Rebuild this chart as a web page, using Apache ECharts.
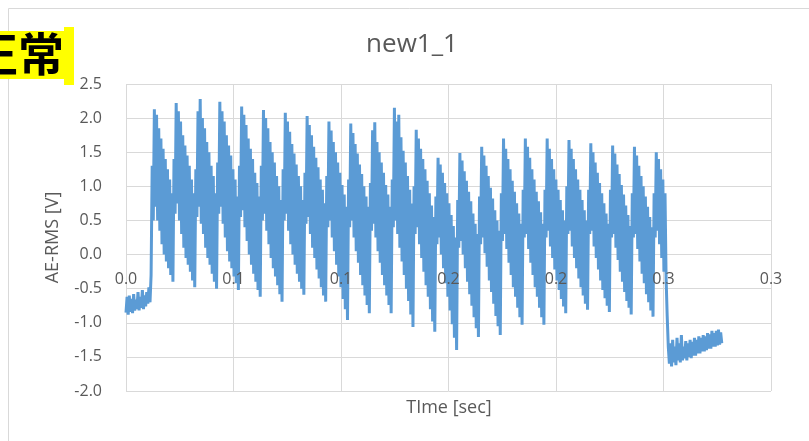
<!DOCTYPE html>
<html><head><meta charset="utf-8">
<script src="https://cdn.jsdelivr.net/npm/echarts@6/dist/echarts.min.js"></script>
<style>html,body{margin:0;padding:0;background:#fff}#c{width:809px;height:441px}</style>
</head><body><div id="c"></div>
<script>
const chartTitle = 'new1_1';
const statusLabel = '正常';
const xAxisName = 'TIme [sec]';
const yAxisName = 'AE-RMS [V]';
const sampleInterval = 0.0005075; // seconds between samples
const xTickLabels = ['0.0', '0.1', '0.1', '0.2', '0.2', '0.3', '0.3'];
const yTickLabels = ['-2.0', '-1.5', '-1.0', '-0.5', '0.0', '0.5', '1.0', '1.5', '2.0', '2.5'];

// signal before the bursts start
const startSegment = [-0.85, -0.62, -0.88, -0.60, -0.84, -0.65, -0.86, -0.58, -0.82, -0.66, -0.80, -0.55, -0.82, -0.62, -0.78, -0.52, -0.80, -0.60, -0.76, -0.55, -0.72, -0.48, -0.70, -0.30];

// repeating bursts (20 samples each)
const burstValues = [
  1.30, 0.50, 2.13, 0.70, 2.05, 0.50, 1.85, 0.35, 1.70, 0.15, 1.55, 0.00, 1.40, -0.10, 1.25, -0.20, 1.10, -0.30, 0.90, -0.40,
  1.40, 0.60, 2.22, 0.75, 2.10, 0.50, 1.95, 0.30, 1.75, 0.10, 1.60, -0.05, 1.45, -0.15, 1.30, -0.25, 1.10, -0.38, 0.90, -0.48,
  1.25, 0.55, 2.10, 0.70, 2.28, 0.45, 2.00, 0.30, 1.85, 0.10, 1.65, -0.05, 1.50, -0.15, 1.30, -0.28, 1.15, -0.40, 0.90, -0.50,
  1.35, 0.60, 2.24, 0.70, 2.10, 0.45, 1.95, 0.25, 1.75, 0.05, 1.60, -0.10, 1.45, -0.20, 1.25, -0.32, 1.10, -0.42, 0.85, -0.52,
  1.30, 0.55, 2.17, 0.65, 2.05, 0.40, 1.90, 0.20, 1.70, 0.00, 1.55, -0.15, 1.40, -0.28, 1.20, -0.40, 1.05, -0.52, 0.85, -0.62,
  1.30, 0.50, 2.12, 0.60, 2.00, 0.35, 1.85, 0.15, 1.65, -0.05, 1.50, -0.20, 1.35, -0.32, 1.15, -0.45, 1.00, -0.58, 0.80, -0.69,
  1.25, 0.50, 2.08, 0.60, 1.95, 0.35, 1.80, 0.15, 1.62, 0.00, 1.48, -0.15, 1.32, -0.28, 1.15, -0.40, 1.00, -0.50, 0.80, -0.59,
  1.20, 0.45, 2.03, 0.55, 1.90, 0.30, 1.75, 0.10, 1.58, -0.05, 1.42, -0.22, 1.28, -0.35, 1.10, -0.48, 0.95, -0.60, 0.75, -0.69,
  1.15, 0.40, 1.95, 0.50, 1.82, 0.25, 1.65, 0.05, 1.50, -0.15, 1.35, -0.32, 1.20, -0.48, 1.02, -0.65, 0.88, -0.80, 0.70, -0.96,
  1.10, 0.40, 1.92, 0.50, 1.78, 0.25, 1.62, 0.05, 1.48, -0.12, 1.32, -0.30, 1.18, -0.45, 1.00, -0.60, 0.85, -0.74, 0.70, -0.86,
  1.05, 0.35, 1.82, 0.45, 1.94, 0.25, 1.65, 0.05, 1.50, -0.12, 1.35, -0.30, 1.20, -0.45, 1.02, -0.60, 0.88, -0.74, 0.70, -0.86,
  1.10, 0.40, 2.15, 0.50, 1.95, 0.30, 2.05, 0.10, 1.72, -0.10, 1.52, -0.30, 1.35, -0.50, 1.15, -0.68, 0.95, -0.88, 0.75, -1.06,
  1.00, 0.30, 1.83, 0.40, 1.70, 0.15, 1.55, -0.05, 1.40, -0.25, 1.25, -0.45, 1.08, -0.62, 0.90, -0.80, 0.72, -0.98, 0.55, -1.13,
  0.85, 0.15, 1.42, 0.25, 1.32, 0.00, 1.20, -0.20, 1.05, -0.42, 0.90, -0.62, 0.75, -0.82, 0.58, -1.02, 0.42, -1.22, 0.25, -1.40,
  0.80, 0.10, 1.49, 0.20, 1.38, 0.00, 1.22, -0.20, 1.08, -0.40, 0.92, -0.58, 0.78, -0.75, 0.60, -0.92, 0.45, -1.08, 0.30, -1.21,
  0.85, 0.15, 1.58, 0.25, 1.45, 0.02, 1.30, -0.18, 1.15, -0.38, 0.98, -0.55, 0.82, -0.72, 0.65, -0.90, 0.50, -1.05, 0.35, -1.18,
  0.90, 0.20, 1.70, 0.30, 1.55, 0.08, 1.40, -0.12, 1.25, -0.30, 1.08, -0.48, 0.92, -0.62, 0.75, -0.78, 0.60, -0.92, 0.45, -1.03,
  0.95, 0.25, 1.70, 0.30, 1.58, 0.08, 1.42, -0.12, 1.25, -0.30, 1.10, -0.48, 0.92, -0.62, 0.78, -0.78, 0.62, -0.92, 0.45, -1.03,
  0.95, 0.25, 1.70, 0.35, 1.55, 0.12, 1.40, -0.05, 1.25, -0.22, 1.10, -0.38, 0.95, -0.52, 0.80, -0.65, 0.65, -0.76, 0.50, -0.86,
  1.00, 0.30, 1.68, 0.35, 1.55, 0.12, 1.40, -0.05, 1.25, -0.20, 1.10, -0.35, 0.95, -0.48, 0.80, -0.60, 0.65, -0.72, 0.50, -0.81,
  0.95, 0.30, 1.63, 0.35, 1.50, 0.12, 1.35, -0.05, 1.20, -0.22, 1.05, -0.38, 0.90, -0.52, 0.75, -0.64, 0.60, -0.75, 0.45, -0.84,
  0.95, 0.25, 1.60, 0.30, 1.48, 0.10, 1.32, -0.08, 1.18, -0.25, 1.02, -0.40, 0.88, -0.55, 0.72, -0.68, 0.58, -0.78, 0.42, -0.88,
  0.90, 0.25, 1.58, 0.30, 1.45, 0.08, 1.30, -0.10, 1.15, -0.28, 1.00, -0.42, 0.85, -0.58, 0.70, -0.70, 0.55, -0.82, 0.40, -0.91
];

// last burst, the drop and the low tail
const endSegment = [
  0.90, 0.25, 1.50, 0.35, 1.40, 0.15, 1.25, -0.05, 1.10, -0.25, 0.90, -0.35, -0.90, -1.35,
  -1.60, -1.30, -1.64, -1.25, -1.58, -1.35, -1.62, -1.22, -1.55, -1.30,
  -1.58, -1.18, -1.55, -1.35, -1.52, -1.27, -1.55, -1.30, -1.50, -1.25,
  -1.52, -1.28, -1.48, -1.22, -1.48, -1.25, -1.45, -1.20, -1.45, -1.22,
  -1.42, -1.18, -1.42, -1.20, -1.40, -1.15, -1.38, -1.17, -1.38, -1.12,
  -1.35, -1.15, -1.35, -1.12, -1.33, -1.10, -1.32, -1.14, -1.30
];

const signal = startSegment.concat(burstValues, endSegment);
const seriesData = signal.map((v, i) => [i * sampleInterval, v]);

const yMin = -2, yMax = 2.5;
const plotTop = 84, plotHeight = 307;
// label grid ends exactly at y = 0 of the main plot so the time labels sit on the zero line
const zeroOffset = plotHeight * yMax / (yMax - yMin);

const txt = '#595959';
const fontFam = '"Open Sans", "Liberation Sans", sans-serif';
const chart = echarts.init(document.getElementById('c'), null, {renderer: 'canvas'});
chart.setOption({
  animation: false,
  backgroundColor: '#ffffff',
  grid: [
    {left: 126, top: plotTop, width: 645, height: plotHeight, containLabel: false, outerBoundsMode: 'none'},
    {left: 126, top: plotTop, width: 645, height: zeroOffset, containLabel: false, outerBoundsMode: 'none', z: 5}
  ],
  xAxis: [{
    gridIndex: 0, type: 'value', min: 0, max: 0.3, interval: 0.05, position: 'bottom',
    axisLine: {show: false, onZero: false}, axisTick: {show: false}, axisLabel: {show: false},
    splitLine: {show: true, lineStyle: {color: '#d9d9d9', width: 1}}, z: 0
  }, {
    gridIndex: 1, type: 'value', min: 0, max: 0.3, interval: 0.05, position: 'bottom',
    axisLine: {show: false, onZero: false}, axisTick: {show: false}, splitLine: {show: false},
    axisLabel: {
      margin: 17, color: txt, fontSize: 16, fontFamily: fontFam,
      formatter: v => xTickLabels[Math.round(v / 0.05)]
    }, z: 5
  }],
  yAxis: [{
    gridIndex: 0, type: 'value', min: yMin, max: yMax, interval: 0.5,
    axisLine: {show: false}, axisTick: {show: false},
    splitLine: {show: true, lineStyle: {color: '#d9d9d9', width: 1}},
    axisLabel: {margin: 24, color: txt, fontSize: 16, fontFamily: fontFam,
      formatter: v => yTickLabels[Math.round((v - yMin) / 0.5)]},
    name: yAxisName, nameLocation: 'middle', nameGap: 64,
    nameTextStyle: {color: txt, fontSize: 18, fontFamily: fontFam}
  }, {
    gridIndex: 1, type: 'value', min: 0, max: 1, show: false
  }],
  series: [{
    type: 'line', xAxisIndex: 0, yAxisIndex: 0, data: seriesData, showSymbol: false, symbol: 'none',
    sampling: null, lineStyle: {color: '#5b9bd5', width: 3}, itemStyle: {color: '#5b9bd5'}, z: 2
  }],
  graphic: [
    {type: 'rect', silent: true, z: -10, shape: {x: 8.5, y: 8.5, width: 900, height: 900},
      style: {fill: 'none', stroke: '#d9d9d9', lineWidth: 1}},
    {type: 'text', silent: true, x: 412, y: 45,
      style: {text: chartTitle, textAlign: 'center', textVerticalAlign: 'middle', verticalAlign: 'middle',
        fill: txt, font: '26px ' + fontFam}},
    {type: 'text', silent: true, x: 449, y: 408,
      style: {text: xAxisName, textAlign: 'center', textVerticalAlign: 'middle', verticalAlign: 'middle',
        fill: txt, font: '18px ' + fontFam}},
    {type: 'rect', silent: true, z: 10, shape: {x: 0, y: 31, width: 66, height: 48}, style: {fill: '#ffff00'}},
    {type: 'rect', silent: true, z: 10, shape: {x: 64, y: 27, width: 10, height: 58}, style: {fill: '#ffff00'}},
    {type: 'text', silent: true, z: 11, x: -28, y: 54,
      style: {text: statusLabel, textAlign: 'left', textVerticalAlign: 'middle', verticalAlign: 'middle',
        fill: '#000000', font: 'bold 46px "Noto Sans CJK JP"'}}
  ]
});
</script></body></html>
